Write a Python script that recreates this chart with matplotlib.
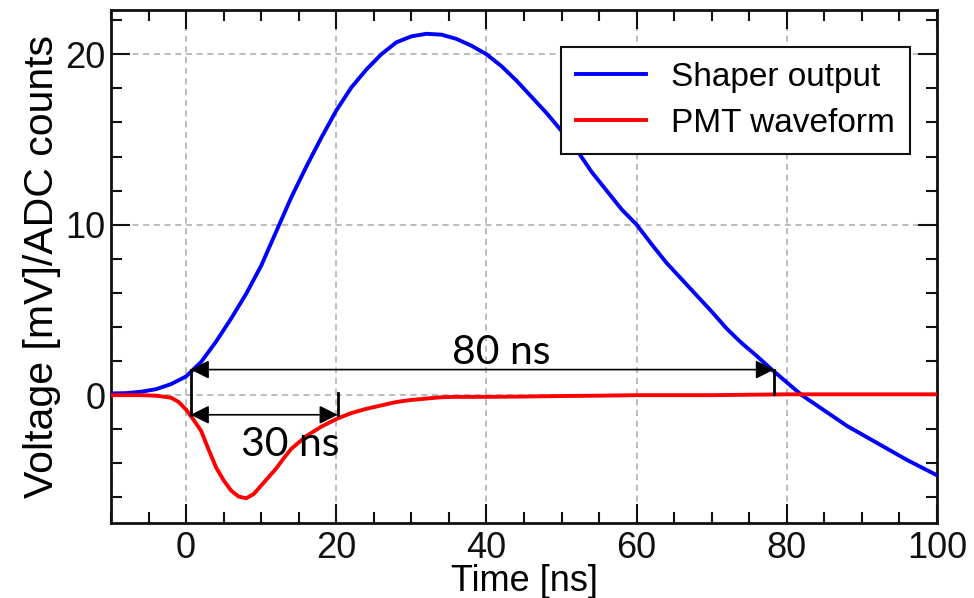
import matplotlib
matplotlib.use('Agg')
import matplotlib.pyplot as plt
from matplotlib.ticker import MultipleLocator

# shaper output (blue)
t_shaper = [-10, -8, -6, -4, -2, 0, 2, 4, 6, 8, 10, 12, 14, 16, 18, 20, 22, 24, 26, 28,
            30, 32, 34, 36, 38, 40, 42, 44, 46, 48, 50, 52, 54, 56, 58, 60, 62, 64, 66, 68,
            70, 72, 74, 76, 78, 80, 82, 84, 86, 88, 90, 92, 94, 96, 98, 100]
v_shaper = [0.1, 0.12, 0.2, 0.35, 0.65, 1.1, 1.95, 3.15, 4.5, 5.95, 7.6, 9.6, 11.6, 13.4,
            15.1, 16.7, 18.05, 19.1, 20.0, 20.7, 21.05, 21.2, 21.15, 20.9, 20.5, 20.0,
            19.3, 18.45, 17.5, 16.55, 15.5, 14.4, 13.1, 12.0, 10.9, 10.0, 8.85, 7.75,
            6.8, 5.85, 4.9, 3.9, 3.05, 2.3, 1.5, 0.75, 0.0, -0.6, -1.2, -1.8, -2.3, -2.8,
            -3.3, -3.8, -4.25, -4.7]

# PMT waveform (red)
t_pmt = [-10, -6, -4, -2, -1, 0, 1, 2, 3, 4, 5, 6, 7, 8, 9, 10, 11, 12, 13, 14, 16, 18,
         20, 22, 24, 26, 28, 30, 32, 34, 36, 40, 45, 50, 55, 60, 70, 80, 90, 100]
v_pmt = [0.0, 0.0, -0.03, -0.15, -0.4, -0.85, -1.45, -2.1, -3.2, -4.25, -5.0, -5.6, -5.95,
         -6.05, -5.8, -5.3, -4.8, -4.3, -3.7, -3.15, -2.4, -1.85, -1.4, -1.05, -0.8, -0.6,
         -0.4, -0.28, -0.2, -0.12, -0.1, -0.1, -0.08, -0.05, -0.03, 0.0, 0.0, 0.05, 0.05, 0.05]

# annotation: width markers
w80_x = [0.6, 78.3]
w80_y = 1.5
w30_x = [0.6, 20.2]
w30_y = -1.15
w80_label = '80 ns'
w30_label = '30 ns'

plt.rcParams['font.family'] = ['Liberation Sans', 'DejaVu Sans']

fig = plt.figure(figsize=(9.74, 5.98), dpi=100)
ax = fig.add_axes([0.114, 0.1254, 0.848, 0.858])

ax.plot(t_shaper, v_shaper, color='#0000ff', lw=2.8, label='Shaper output', zorder=3)
ax.plot(t_pmt, v_pmt, color='#ff0000', lw=2.8, label='PMT waveform', zorder=3)

ax.set_xlim(-10, 100)
ax.set_ylim(-7.5, 22.6)

ax.xaxis.set_major_locator(MultipleLocator(20))
ax.xaxis.set_minor_locator(MultipleLocator(5))
ax.yaxis.set_major_locator(MultipleLocator(10))
ax.yaxis.set_minor_locator(MultipleLocator(2))
ax.tick_params(which='both', direction='in', top=True, right=True, width=1.5, colors='#111111')
ax.tick_params(which='major', length=14, labelsize=26)
ax.tick_params(axis='x', which='major', pad=6)
ax.tick_params(axis='y', which='major', pad=4)
ax.tick_params(which='minor', length=8)
for s in ax.spines.values():
    s.set_linewidth(2)
    s.set_color('#111111')

ax.grid(True, which='major', color='#aaaaaa', ls=(0, (4, 3)), lw=1.1)

ax.set_xlabel('Time [ns]', fontsize=26, labelpad=-2)
ax.set_ylabel('Voltage [mV]/ADC counts', fontsize=29.5, labelpad=3)

# width arrows
arr = dict(arrowstyle='<|-|>', color='k', lw=1.2, mutation_scale=28, shrinkA=0, shrinkB=0)
ax.annotate('', xy=(w80_x[0], w80_y), xytext=(w80_x[1], w80_y), arrowprops=arr, zorder=4)
ax.annotate('', xy=(w30_x[0], w30_y), xytext=(w30_x[1], w30_y), arrowprops=arr, zorder=4)
ax.plot([w80_x[0], w80_x[0]], [w80_y, w30_y], color='k', lw=2, zorder=4)
ax.plot([w80_x[1], w80_x[1]], [w80_y, 0.05], color='k', lw=2, zorder=4)
ax.plot([w30_x[1], w30_x[1]], [0.1, w30_y], color='k', lw=2, zorder=4)
ax.text(42, 2.5, w80_label, fontsize=29.5, family=['Lato', 'DejaVu Sans'],
        ha='center', va='center', zorder=5)
ax.text(13.9, -2.9, w30_label, fontsize=29.5, family=['Lato', 'DejaVu Sans'],
        ha='center', va='center', zorder=5)

leg = ax.legend(loc='upper right', bbox_to_anchor=(0.967, 0.928), borderaxespad=0,
                fontsize=24, fancybox=False, framealpha=1, edgecolor='#111111',
                handlelength=2.1, handletextpad=0.75, borderpad=0.45, labelspacing=0.45)
leg.get_frame().set_linewidth(1.5)

fig.savefig('out.png', dpi=100)
